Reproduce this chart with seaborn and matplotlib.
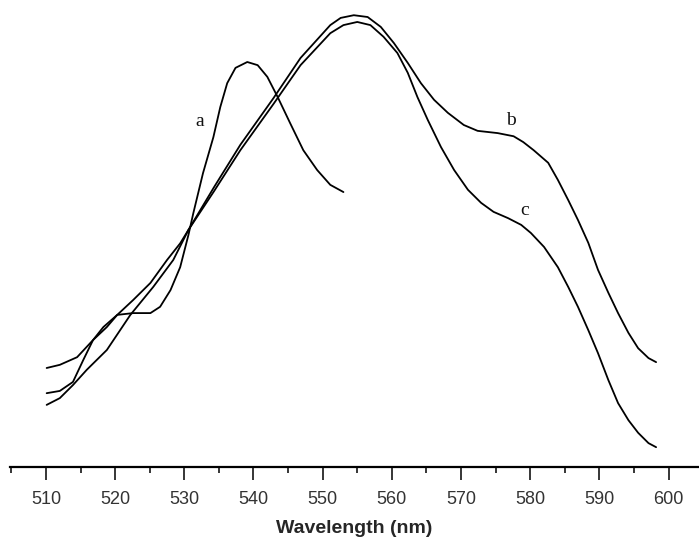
import numpy as np
import pandas as pd
import matplotlib
matplotlib.use("Agg")
import matplotlib.pyplot as plt
import seaborn as sns
from matplotlib.ticker import MultipleLocator

# spectra (wavelength in nm, absorbance in arbitrary units)
wl_a = [510.1, 512.0, 513.9, 515.4, 516.8, 518.3, 520.3, 522.6, 525.1, 526.5,
        528.0, 529.4, 530.6, 531.3, 532.7, 534.2, 535.2, 536.2, 537.4, 539.1,
        540.6, 542.0, 543.5, 545.3, 547.2, 549.2, 551.1, 553.0]
abs_a = [0.164, 0.169, 0.189, 0.238, 0.282, 0.311, 0.338, 0.342, 0.342, 0.356,
         0.393, 0.444, 0.516, 0.564, 0.653, 0.733, 0.800, 0.853, 0.887, 0.900,
         0.893, 0.867, 0.822, 0.764, 0.704, 0.660, 0.627, 0.611]

wl_b = [510.1, 512.0, 513.9, 515.9, 518.8, 522.2, 525.5, 528.4, 530.6, 534.3,
        538.1, 542.9, 546.8, 551.1, 552.6, 554.5, 556.5, 558.4, 560.3, 562.3,
        564.2, 566.1, 568.1, 570.4, 572.4, 575.3, 577.6, 579.0, 580.5, 582.6,
        584.0, 585.5, 586.9, 588.4, 589.8, 591.3, 592.7, 594.2, 595.6, 597.1,
        598.2]
abs_b = [0.138, 0.153, 0.182, 0.216, 0.260, 0.338, 0.400, 0.460, 0.527, 0.622,
         0.716, 0.820, 0.909, 0.982, 0.998, 1.004, 1.000, 0.978, 0.942, 0.898,
         0.853, 0.816, 0.787, 0.760, 0.747, 0.742, 0.735, 0.722, 0.704, 0.676,
         0.638, 0.593, 0.549, 0.498, 0.438, 0.387, 0.342, 0.298, 0.264, 0.242,
         0.233]

wl_c = [510.1, 512.0, 514.5, 516.8, 518.8, 520.3, 522.6, 525.1, 527.5, 529.4,
        530.6, 534.3, 538.1, 542.9, 546.8, 551.1, 553.0, 555.0, 556.9, 558.8,
        560.8, 562.3, 563.7, 565.2, 567.1, 569.0, 571.0, 572.9, 574.7, 576.8,
        578.7, 580.1, 582.0, 584.0, 585.5, 586.9, 588.4, 589.8, 591.3, 592.7,
        594.2, 595.6, 597.1, 598.2]
abs_c = [0.220, 0.227, 0.244, 0.282, 0.311, 0.338, 0.371, 0.409, 0.460, 0.497,
         0.527, 0.613, 0.704, 0.807, 0.893, 0.964, 0.982, 0.989, 0.982, 0.956,
         0.920, 0.876, 0.822, 0.771, 0.711, 0.660, 0.616, 0.587, 0.567, 0.553,
         0.538, 0.520, 0.489, 0.444, 0.400, 0.356, 0.304, 0.253, 0.193, 0.142,
         0.104, 0.076, 0.053, 0.044]

curve_labels = ["a", "b", "c"]
label_pos = [(532.2, 0.767), (577.2, 0.771), (579.2, 0.569)]

df = pd.concat([
    pd.DataFrame({"wavelength": wl_a, "absorbance": abs_a, "curve": "a"}),
    pd.DataFrame({"wavelength": wl_b, "absorbance": abs_b, "curve": "b"}),
    pd.DataFrame({"wavelength": wl_c, "absorbance": abs_c, "curve": "c"}),
])

sns.set_style("white")
plt.rcParams["font.family"] = ["Liberation Sans", "DejaVu Sans"]

fig = plt.figure(figsize=(6.99, 5.43), dpi=100)
ax = fig.add_axes([0.0143, 0.14, 0.9857, 0.86])

sns.lineplot(data=df, x="wavelength", y="absorbance", hue="curve",
             palette=["black", "black", "black"], estimator=None, sort=False,
             linewidth=1.3, legend=False, ax=ax)
for line in ax.lines:
    line.set_solid_joinstyle("round")

for lab, (x, y) in zip(curve_labels, label_pos):
    ax.text(x, y, lab, family="Liberation Serif", fontsize=14,
            ha="center", va="center", color="#111111")

ax.set_xlim(504.8, 604.4)
ax.set_ylim(0, 1.0378)
ax.xaxis.set_major_locator(MultipleLocator(10))
ax.xaxis.set_minor_locator(MultipleLocator(5))
ax.tick_params(axis="x", which="major", length=9, width=1.3, direction="out",
               labelsize=13, labelcolor="#333333", pad=8, bottom=True)
ax.tick_params(axis="x", which="minor", length=4.5, width=1.3, direction="out",
               bottom=True)
ax.set_yticks([])
ax.set_ylabel("")
ax.set_xlabel("Wavelength (nm)", fontsize=14, fontweight="bold", labelpad=9)

for side in ["top", "right", "left"]:
    ax.spines[side].set_visible(False)
ax.spines["bottom"].set_linewidth(1.6)
ax.spines["bottom"].set_color("black")

fig.savefig("out.png", dpi=100)
